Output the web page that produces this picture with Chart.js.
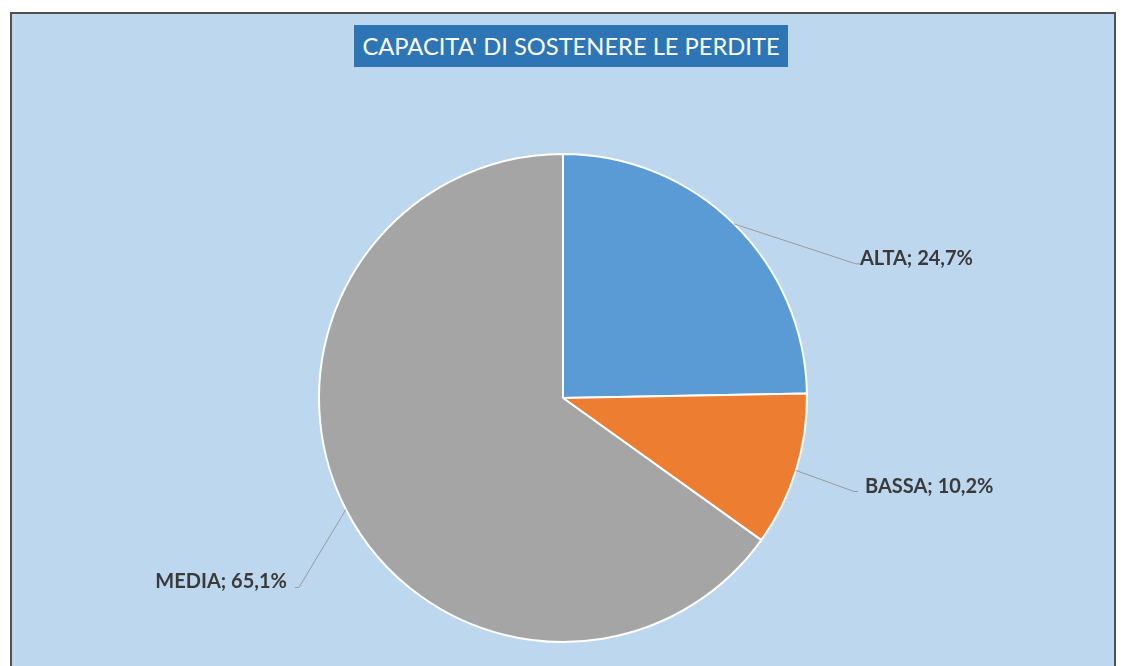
<!DOCTYPE html>
<html>
<head>
<meta charset="utf-8">
<script src="https://cdn.jsdelivr.net/npm/chart.js@4"></script>
<style>
  html, body { margin: 0; padding: 0; background: #fff; }
  #frame {
    position: absolute; left: 10px; top: 12px; width: 1106px; height: 670px;
    background: #BDD7EE; border: 2px solid #505050; box-sizing: border-box;
  }
  #title {
    position: absolute; left: 354px; top: 25px; width: 434px; height: 42px;
    background: #2E75B6; color: #fff; font-family: Lato, sans-serif;
    font-size: 23.7px; line-height: 42px; text-align: center; white-space: nowrap;
  }
  #wrap { position: absolute; left: 0; top: 0; width: 1121px; height: 666px; }
</style>
</head>
<body>
<div id="frame"></div>
<div id="wrap"><canvas id="myChart"></canvas></div>
<div id="title">CAPACITA' DI SOSTENERE LE PERDITE</div>
<script>
let categories = ["ALTA", "BASSA", "MEDIA"];
let values = [24.7, 10.2, 65.1];
let value_labels = ["24,7%", "10,2%", "65,1%"];
let colors = ["#5B9BD5", "#ED7D31", "#A5A5A5"];

// leader line end and text anchor, relative to the slice edge point
let label_offsets = [
    { ex: 122, ey: 40, tx: 126, ty: 35, align: "left" },
    { ex: 58, ey: 21, tx: 69, ty: 16, align: "left" },
    { ex: -47, ey: 78, tx: -59, ty: 72, align: "right" }
];

const leaderLabels = {
    id: 'leaderLabels',
    afterDatasetsDraw(chart) {
        const ctx = chart.ctx;
        const meta = chart.getDatasetMeta(0);
        meta.data.forEach((arc, i) => {
            const mid = (arc.startAngle + arc.endAngle) / 2;
            const px = arc.x + Math.cos(mid) * arc.outerRadius;
            const py = arc.y + Math.sin(mid) * arc.outerRadius;
            const o = label_offsets[i];
            ctx.save();
            ctx.strokeStyle = "#9a9a9a";
            ctx.lineWidth = 1;
            ctx.beginPath();
            ctx.moveTo(px, py);
            ctx.lineTo(px + o.ex, py + o.ey);
            ctx.lineTo(px + o.ex + (o.align == "left" ? 4 : -4), py + o.ey);
            ctx.stroke();
            ctx.fillStyle = "#3a3a3a";
            ctx.font = "bold 20px Lato";
            ctx.textAlign = o.align;
            ctx.textBaseline = "middle";
            ctx.fillText(categories[i] + "; " + value_labels[i], px + o.tx, py + o.ty);
            ctx.restore();
        });
    }
};

new Chart(document.getElementById('myChart'), {
    type: 'pie',
    data: {
        labels: categories,
        datasets: [{
            data: values,
            backgroundColor: colors,
            borderColor: "#ffffff",
            borderWidth: 2
        }]
    },
    options: {
        responsive: true,
        maintainAspectRatio: false,
        animation: false,
        layout: { padding: { top: 153, bottom: 23, left: 5, right: 0 } },
        plugins: {
            legend: { display: false },
            tooltip: { enabled: false }
        }
    },
    plugins: [leaderLabels]
});
</script>
</body>
</html>
